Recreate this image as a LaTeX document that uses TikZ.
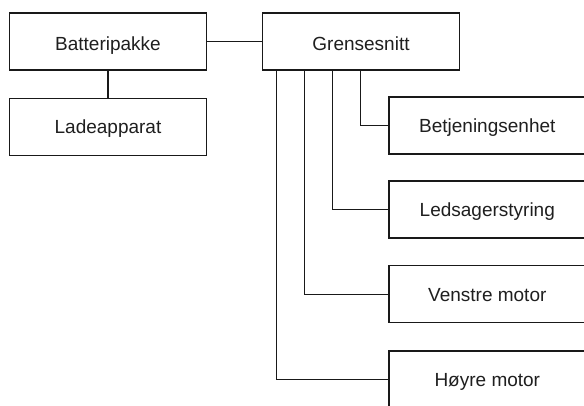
\documentclass[tikz,border=0pt]{standalone}
\usepackage{fontspec}
\setmainfont{Liberation Sans}
\begin{document}
\begin{tikzpicture}[x=1pt,y=-1pt,
  box/.style={draw=black!90, line width=1.3pt, fill=white, minimum width=196.5pt, minimum height=57pt, inner sep=0pt, text height=13.6pt, text depth=0pt, font=\fontsize{19}{22}\selectfont, text=black!88},
  lowtext/.style={text height=18.6pt},
  conn/.style={draw=black!90, line width=1.3pt}]
\useasboundingbox (0,0) rectangle (584,405);
\clip (0,0) rectangle (584,405);
\node[box,lowtext] (bat) at (108,41.5) {Batteripakke};
\node[box] (lad) at (108,127) {Ladeapparat};
\node[box,lowtext] (gren) at (361,41.5) {Grensesnitt};
\node[box] (betj) at (487.3,125.5) {Betjeningsenhet};
\node[box] (leds) at (487.3,209.5) {Ledsagerstyring};
\node[box] (vens) at (487.3,294.3) {Venstre motor};
\node[box] (hoyr) at (487.3,379.5) {Høyre motor};
\draw[conn] (bat.east) -- (gren.west);
\draw[conn] (bat.south) -- (lad.north);
\draw[conn] (gren.south -| 360.7,0) |- (betj.west);
\draw[conn] (gren.south -| 332.7,0) |- (leds.west);
\draw[conn] (gren.south -| 304.3,0) |- (vens.west);
\draw[conn] (gren.south -| 276.7,0) |- (hoyr.west);
\end{tikzpicture}
\end{document}
